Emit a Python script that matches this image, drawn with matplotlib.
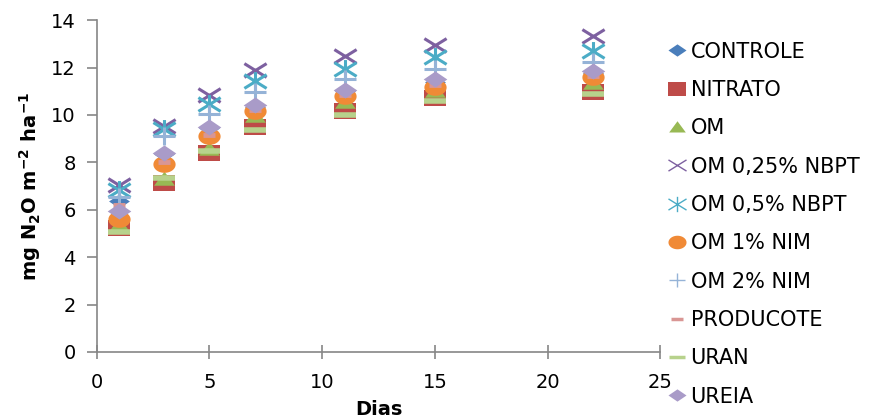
import matplotlib
matplotlib.use("Agg")
import numpy as np
import matplotlib.pyplot as plt
from matplotlib.path import Path
from matplotlib.lines import Line2D

plt.rcParams['font.family'] = ['DejaVu Sans']

dias = [1, 3, 5, 7, 11, 15, 22]
controle   = [6.35, 8.35, 9.45, 10.35, 11.0, 11.4, 11.75]
nitrato    = [5.25, 7.15, 8.4, 9.5, 10.15, 10.7, 10.95]
om         = [5.35, 7.3, 8.55, 9.95, 10.55, 11.0, 11.35]
om025nbpt  = [7.05, 9.55, 10.85, 11.9, 12.5, 12.95, 13.35]
om05nbpt   = [6.85, 9.4, 10.45, 11.45, 11.95, 12.45, 12.7]
om1nim     = [5.6, 7.95, 9.1, 10.15, 10.8, 11.2, 11.6]
om2nim     = [6.55, 9.1, 10.05, 10.95, 11.5, 11.95, 12.25]
producote  = [6.2, 8.0, 9.15, 10.2, 10.85, 11.25, 11.65]
uran       = [5.05, 7.35, 8.5, 9.35, 10.0, 10.6, 10.9]
ureia      = [5.95, 8.4, 9.5, 10.4, 11.05, 11.5, 11.85]
names = ["CONTROLE", "NITRATO", "OM", "OM 0,25% NBPT", "OM 0,5% NBPT",
         "OM 1% NIM", "OM 2% NIM", "PRODUCOTE", "URAN", "UREIA"]

M, L = Path.MOVETO, Path.LINETO
diamond = Path([(-1, 0), (0, 0.68), (1, 0), (0, -0.68), (-1, 0)], closed=True)
square = Path([(-1, -0.75), (1, -0.75), (1, 0.75), (-1, 0.75), (-1, -0.75)], closed=True)
tri = Path([(-1, -0.6), (1, -0.6), (0, 0.75), (-1, -0.6)], closed=True)
xmark = Path([(-1, -0.62), (1, 0.62), (-1, 0.62), (1, -0.62)], [M, L, M, L])
ast = Path([(-1, -0.62), (1, 0.62), (-1, 0.62), (1, -0.62), (0, -0.85), (0, 0.85)],
           [M, L, M, L, M, L])
t = np.linspace(0, 2 * np.pi, 60)
ellipse = Path(np.column_stack([np.cos(t), 0.75 * np.sin(t)]), closed=True)
plus = Path([(-1, 0), (1, 0), (0, -0.8), (0, 0.8)], [M, L, M, L])
dash = Path([(-1, 0), (1, 0)], [M, L])

styles = [
    dict(marker=diamond, color='#4A7EBB', ms=15, mew=0, lms=13),
    dict(marker=square, color='#BE4B48', ms=16, mew=0, lms=13),
    dict(marker=tri, color='#98B954', ms=15, mew=0, lms=12),
    dict(marker=xmark, color='#7D60A0', ms=16, mew=2.2, lms=13, lmew=1),
    dict(marker=ast, color='#4BACC6', ms=16, mew=2.2, lms=13, lmew=1),
    dict(marker=ellipse, color='#F08A36', ms=16, mew=0, lms=13),
    dict(marker=plus, color='#95B3D7', ms=16, mew=2.2, lms=12, lmew=1),
    dict(marker=dash, color='#D99694', ms=9, mew=3.5, lms=8, lmew=2.5),
    dict(marker=dash, color='#B7D28C', ms=16, mew=4, lms=12, lmew=2.5),
    dict(marker=diamond, color='#A99BC8', ms=17, mew=0, lms=13),
]
data = [controle, nitrato, om, om025nbpt, om05nbpt, om1nim, om2nim,
        producote, uran, ureia]

fig = plt.figure(figsize=(8.96, 4.2), dpi=100)
ax = fig.add_axes([0.108, 0.162, 0.629, 0.79])

handles = []
for name, vals, st in zip(names, data, styles):
    ax.plot(dias, vals, linestyle='none', marker=st['marker'],
            markersize=st['ms'], markerfacecolor=st['color'],
            markeredgecolor=st['color'], markeredgewidth=st['mew'])
    handles.append(Line2D([], [], linestyle='none', marker=st['marker'],
                          markersize=st['lms'], markerfacecolor=st['color'],
                          markeredgecolor=st['color'],
                          markeredgewidth=st.get('lmew', 0), label=name))

ax.set_xlim(0, 25)
ax.set_ylim(0, 14)
ax.set_xticks([0, 5, 10, 15, 20, 25])
ax.set_yticks(range(0, 15, 2))
for s in ['top', 'right']:
    ax.spines[s].set_visible(False)
for s in ['left', 'bottom']:
    ax.spines[s].set_color('#868686')
    ax.spines[s].set_linewidth(1.2)
ax.tick_params(axis='both', colors='#868686', labelcolor='black',
               labelsize=14, width=1.2)
ax.tick_params(axis='x', direction='inout', length=10, pad=10)
ax.tick_params(axis='y', direction='out', length=7, pad=8)
ax.set_xlabel("Dias", fontsize=14, fontweight='bold')
ax.xaxis.set_label_coords(0.5, -0.145)
ax.set_ylabel(r"mg N$_\mathbf{2}$O m$^{\mathbf{-2}}$ ha$^{\mathbf{-1}}$",
              fontsize=14, fontweight='bold')
ax.yaxis.set_label_coords(-0.095, 0.5)

fig.legend(handles=handles, loc='upper left', bbox_to_anchor=(0.744, 0.901),
           frameon=False, fontsize=15, handlelength=1.0,
           handletextpad=0.15, labelspacing=0.88, borderaxespad=0, borderpad=0)

fig.savefig("out.png", dpi=100)
